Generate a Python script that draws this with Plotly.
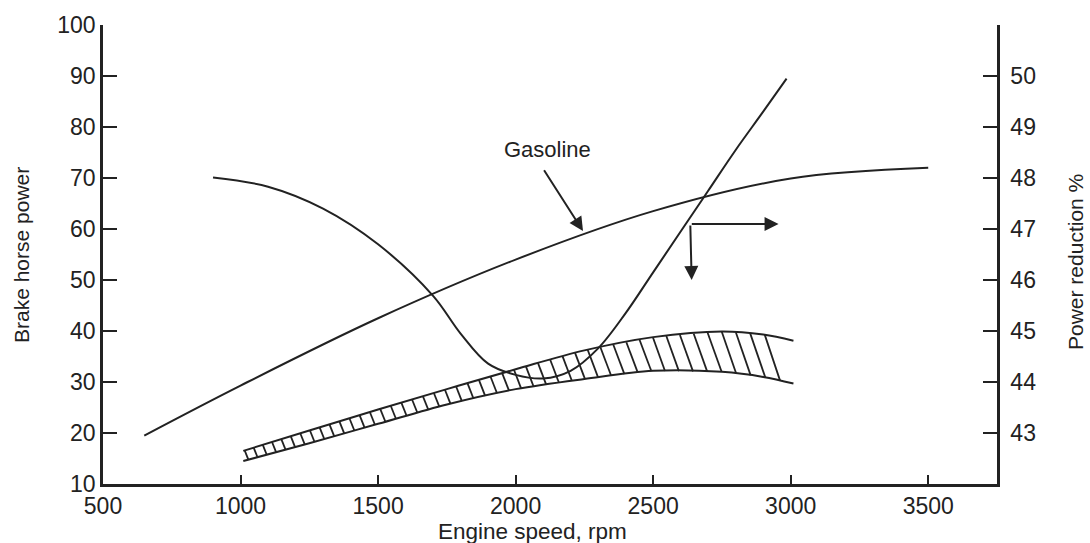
import numpy as np
import plotly.graph_objects as go

# ---------------- data ----------------
# Gasoline brake horse power curve (left axis)
rpm_gas = [650, 1000, 1500, 2000, 2500, 3000, 3500]
bhp_gas = [19.5, 29.3, 42.5, 54.0, 63.5, 69.9, 72.0]

# Hatched band (left axis): upper and lower boundaries
rpm_band = [1010, 1250, 1500, 1750, 2000, 2250, 2500, 2750, 2900, 3010]
bhp_band_upper = [16.5, 20.5, 24.6, 28.6, 32.5, 36.2, 38.8, 39.9, 39.3, 38.1]
bhp_band_lower = [14.5, 18.0, 21.8, 25.6, 28.6, 30.6, 32.2, 32.0, 31.0, 29.7]

# Power reduction % curve (right axis)
rpm_red = [900, 1100, 1300, 1500, 1700, 1800, 1900, 2000, 2100, 2200,
           2300, 2400, 2500, 2600, 2700, 2800, 2900, 2985]
pct_red = [48.01, 47.83, 47.40, 46.70, 45.69, 44.95, 44.36, 44.14, 44.07, 44.22,
           44.66, 45.35, 46.15, 46.95, 47.75, 48.55, 49.30, 49.95]

x_ticks = [500, 1000, 1500, 2000, 2500, 3000, 3500]
y_left_ticks = [10, 20, 30, 40, 50, 60, 70, 80, 90, 100]
y_right_ticks = [43, 44, 45, 46, 47, 48, 49, 50]

# ---------------- style ----------------
INK = "#222222"
FONT = "Liberation Sans, Arial, sans-serif"
W, H = 1090, 543
ML, MR, MT, MB = 103, 93, 25, 59
X_RANGE = [500, 3750]
Y_RANGE = [10, 100]
Y2_RANGE = [42, 51]

plot_w = W - ML - MR
plot_h = H - MT - MB
px_per_rpm = plot_w / (X_RANGE[1] - X_RANGE[0])
px_per_bhp = plot_h / (Y_RANGE[1] - Y_RANGE[0])

fig = go.Figure()

fig.add_trace(go.Scatter(x=rpm_gas, y=bhp_gas, mode="lines",
                         line=dict(color=INK, width=2, shape="spline"),
                         showlegend=False, hoverinfo="skip"))

fig.add_trace(go.Scatter(x=rpm_band, y=bhp_band_upper, mode="lines",
                         line=dict(color=INK, width=2, shape="spline"),
                         showlegend=False, hoverinfo="skip"))
fig.add_trace(go.Scatter(x=rpm_band, y=bhp_band_lower, mode="lines",
                         line=dict(color=INK, width=2, shape="spline"),
                         showlegend=False, hoverinfo="skip"))

# hatch lines between band boundaries (slanted "\" strokes)
ub = np.array(bhp_band_upper)
lb = np.array(bhp_band_lower)
rb = np.array(rpm_band, dtype=float)
hx, hy = [], []
r = rb[0] + 5
slant = 0.36  # dx/dy in pixels
while True:
    u = np.interp(r, rb, ub)
    l0 = np.interp(r, rb, lb)
    dy_px = (u - l0) * px_per_bhp
    r2 = r + slant * dy_px / px_per_rpm
    if r2 > rb[-1]:
        break
    l = np.interp(r2, rb, lb)
    hx += [r, r2, None]
    hy += [u, l, None]
    step_px = 9.0 + 6.0 * (r - rb[0]) / (rb[-1] - rb[0])
    r += step_px / px_per_rpm
fig.add_trace(go.Scatter(x=hx, y=hy, mode="lines",
                         line=dict(color=INK, width=1.8),
                         showlegend=False, hoverinfo="skip"))

fig.add_trace(go.Scatter(x=rpm_red, y=pct_red, mode="lines", yaxis="y2",
                         line=dict(color=INK, width=2, shape="spline", smoothing=1.0),
                         showlegend=False, hoverinfo="skip"))

tickfont = dict(family=FONT, size=23, color=INK)

fig.update_layout(
    width=W, height=H,
    template="none",
    paper_bgcolor="white", plot_bgcolor="white",
    margin=dict(l=ML, r=MR, t=MT, b=MB, pad=0),
    font=dict(family=FONT, color=INK),
    showlegend=False,
    xaxis=dict(range=X_RANGE, tickvals=x_ticks, ticks="inside", ticklen=9, tickwidth=2,
               tickcolor=INK, showline=True, linewidth=2.5, linecolor=INK,
               showgrid=False, zeroline=False, tickfont=tickfont, automargin=False),
    yaxis=dict(range=Y_RANGE, tickvals=y_left_ticks, ticks="inside", ticklen=14, tickwidth=2,
               tickcolor=INK, showline=True, linewidth=2.5, linecolor=INK,
               showgrid=False, zeroline=False, tickfont=tickfont, automargin=False),
    yaxis2=dict(range=Y2_RANGE, tickvals=y_right_ticks, ticks="inside", ticklen=14, tickwidth=2,
                tickcolor=INK, showline=True, linewidth=2.5, linecolor=INK,
                overlaying="y", side="right", anchor="x", ticklabelstandoff=6,
                showgrid=False, zeroline=False, tickfont=tickfont, automargin=False),
)

def px_x(px):
    return (px - ML) / plot_w

def px_y(py):
    return (H - MB - py) / plot_h

titlefont = dict(family=FONT, size=21, color=INK)
fig.add_annotation(text="Brake horse power", xref="paper", yref="paper",
                   x=px_x(21), y=px_y(255), textangle=-90, showarrow=False,
                   font=titlefont, xanchor="center", yanchor="middle")
fig.add_annotation(text="Power reduction %", xref="paper", yref="paper",
                   x=px_x(1075), y=px_y(262), textangle=-90, showarrow=False,
                   font=titlefont, xanchor="center", yanchor="middle")
fig.add_annotation(text="Engine speed, rpm", xref="paper", yref="paper",
                   x=px_x(532), y=px_y(531), showarrow=False,
                   font=dict(family=FONT, size=22.5, color=INK),
                   xanchor="center", yanchor="middle")

# Gasoline label and arrow
fig.add_annotation(text="Gasoline", xref="x", yref="y", x=2115, y=75.5,
                   showarrow=False, font=dict(family=FONT, size=22, color=INK))
fig.add_annotation(text="", x=2245, y=59.6, ax=2100, ay=71.8,
                   xref="x", yref="y", axref="x", ayref="y",
                   showarrow=True, arrowhead=2, arrowsize=1.4, arrowwidth=2,
                   arrowcolor=INK)

# axis-direction arrows from the power reduction curve
fig.add_annotation(text="", x=2956, y=61.0, ax=2635, ay=61.0,
                   xref="x", yref="y", axref="x", ayref="y",
                   showarrow=True, arrowhead=2, arrowsize=1.4, arrowwidth=2,
                   arrowcolor=INK)
fig.add_annotation(text="", x=2640, y=50.0, ax=2635, ay=61.0,
                   xref="x", yref="y", axref="x", ayref="y",
                   showarrow=True, arrowhead=2, arrowsize=1.4, arrowwidth=2,
                   arrowcolor=INK)

fig.write_html("out.html", config={"displayModeBar": False},
               post_script="document.body.style.margin='0';document.body.style.overflow='hidden';")
